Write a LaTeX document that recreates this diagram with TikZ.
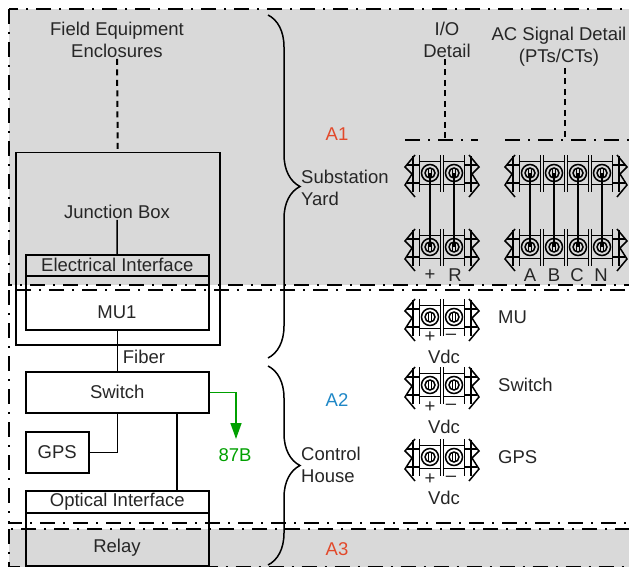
\documentclass[tikz,border=0pt]{standalone}
\usepackage{fontspec}
\setmainfont{Liberation Sans}
\usetikzlibrary{arrows.meta, decorations.pathreplacing}
\definecolor{zonegray}{HTML}{D9D9D9}
\definecolor{tagred}{HTML}{E2492B}
\definecolor{tagblue}{HTML}{1F87C6}
\definecolor{tripgreen}{HTML}{00A000}

\begin{document}
\begin{tikzpicture}[
    x=1pt, y=-1pt,
    every node/.style={font=\fontsize{18.5}{22}\selectfont, text=black!85, inner sep=1pt},
    box/.style={draw=black, line width=1.5pt, inner sep=0pt, anchor=north west},
    zone/.style={line width=2pt, dash pattern=on 15pt off 8pt on 2pt off 8pt},
    detail/.style={line width=2pt, dash pattern=on 15pt off 8pt on 2pt off 8pt},
    feed/.style={line width=2pt, dash pattern=on 6pt off 4.5pt},
    wire/.style={line width=1.5pt},
    curly/.style={line width=1.5pt, decorate, decoration={brace, amplitude=32pt}},
    pics/terminal/.style={code={
      \pgfmathsetmacro\lastx{24*(#1-1)}
      \foreach \n [evaluate=\n as \xc using 24*(\n-1)] in {1,...,#1} {
        \coordinate (-s\n) at (\xc,0);
        \draw[line width=1.5pt] (\xc,0) circle (8.5pt) (\xc,0) circle (5pt);
        \draw[line width=1pt] (\xc-1.5,-4) -- (\xc-1.5,4) (\xc+1.5,-4) -- (\xc+1.5,4);
        \draw[line width=1.7pt] (\xc-10.5,-18) -- (\xc-10.5,19) (\xc+10.5,-18) -- (\xc+10.5,19);
        \draw[line width=1.5pt] (\xc-10.5,-11.5) -- (\xc+10.5,-11.5) (\xc-10.5,11.5) -- (\xc+10.5,11.5);
      }
      \draw[line width=1.5pt] (-15,-18) -- (-25,-6) -- (-18,1) -- (-25,12) -- (-15,24);
      \draw[line width=1.5pt] (-17,-17) -- (-17,19) (-23,-8) -- (-10.5,-8) (-23,10) -- (-10.5,10);
      \draw[line width=1.5pt] (\lastx+15,-18) -- (\lastx+25,-6) -- (\lastx+18,1) -- (\lastx+25,12) -- (\lastx+15,24);
      \draw[line width=1.5pt] (\lastx+17,-17) -- (\lastx+17,19) (\lastx+23,-8) -- (\lastx+10.5,-8) (\lastx+23,10) -- (\lastx+10.5,10);
    }}
]
  \useasboundingbox (0,0) rectangle (629,567);

  % --- ZONES ---
  \draw[zone, fill=zonegray] (9,9) rectangle (645,285);
  \draw[zone] (9,290) rectangle (645,523);
  \draw[zone, fill=zonegray] (9,529) rectangle (645,566.5);

  % --- LEFT SECTION ---
  \node[align=center] (fieldlabel) at (117,40) {Field Equipment\\Enclosures};
  \node[box, minimum width=204pt, minimum height=192pt] (jbox) at (15,152) {};
  \node (jlabel) at (117,212) {Junction Box};
  \node[box, minimum width=183pt, minimum height=21pt] (elec) at (25,254) {Electrical Interface};
  \node[box, minimum width=183pt, minimum height=54pt] (mu) at (25,275) {};
  \node (mutext) at (117,312) {MU1};
  \node (fiber) at (144,357) {Fiber};
  \node[box, minimum width=183pt, minimum height=41pt] (switch) at (25,371) {Switch};
  \node[box, minimum width=63pt, minimum height=41pt] (gps) at (25,431) {GPS};
  \node[box, minimum width=183pt, minimum height=22pt] (optical) at (25,490) {Optical Interface};
  \node[box, minimum width=183pt, minimum height=53pt] (relay) at (25,512) {};
  \node (relaytext) at (117,548) {Relay};
  \node[text=tripgreen] (trip) at (235,455) {87B};
  \coordinate (optictap) at (177,450);
  \coordinate (triptip) at (236,439);

  \draw[feed] (fieldlabel.south) -- (jbox.north);
  \draw[wire] (jlabel.south) -- (elec.north);
  \draw[wire] (mu.south) -- (switch.north);
  \draw[wire] (gps.east) -| (switch.south);
  \draw[wire] (switch.south -| optictap) -- (optical.north -| optictap);
  \draw[wire, tripgreen, -{Triangle[width=11pt,length=16pt]}] (switch.east) -| (triptip);

  % --- CENTER BRACES ---
  \coordinate (yardtop) at (268,15);
  \coordinate (yardend) at (268,358);
  \coordinate (housetop) at (268,366);
  \coordinate (houseend) at (268,565);
  \draw[curly] (yardtop) -- (yardend);
  \draw[curly] (housetop) -- (houseend);
  \node[align=left, anchor=west] (yard) at (300,188) {Substation\\Yard};
  \node[align=left, anchor=west] (house) at (300,465) {Control\\House};
  \node[text=tagred] (a1) at (337,134) {A1};
  \node[text=tagblue] (a2) at (337,400) {A2};
  \node[text=tagred] (a3) at (337,549) {A3};

  % --- RIGHT SECTION ---
  \node[align=center] (iolabel) at (447,40) {I/O\\Detail};
  \node[align=center] (aclabel) at (559,47) {AC Signal Detail\\(PTs/CTs)};
  \coordinate (ioleft) at (405,140);
  \coordinate (ioright) at (478,140);
  \coordinate (acleft) at (505,140);
  \coordinate (acright) at (645,140);
  \coordinate (iotap) at (445,140);
  \coordinate (actap) at (565,140);
  \draw[detail] (ioleft) -- (ioright);
  \draw[detail] (acleft) -- (acright);
  \draw[feed] (iotap |- iolabel.south) -- (iotap);
  \draw[feed] (actap |- aclabel.south) -- (actap);

  \pic (iotop) at (430,173) {terminal=2};
  \pic (iobot) at (430,247) {terminal=2};
  \pic (actop) at (530,173) {terminal=4};
  \pic (acbot) at (530,247) {terminal=4};
  \foreach \n in {1,2} \draw[wire] (iotop-s\n) -- (iobot-s\n);
  \foreach \n in {1,...,4} \draw[wire] (actop-s\n) -- (acbot-s\n);

  \node (plus) at (430,275) {+};
  \node (r) at (455,275) {R};
  \node (pa) at (530,275) {A};
  \node (pb) at (554,275) {B};
  \node (pc) at (577,275) {C};
  \node (pn) at (601,275) {N};

  % --- SUPPLY BLOCKS ---
  \pic (tbmu) at (430,317) {terminal=2};
  \pic (tbsw) at (430,385) {terminal=2};
  \pic (tbgps) at (430,457) {terminal=2};
  \node (muplus) at (430,337) {+};
  \node (muminus) at (451,337) {–};
  \node (muvdc) at (444,357) {Vdc};
  \node (swplus) at (430,407) {+};
  \node (swminus) at (451,407) {–};
  \node (swvdc) at (444,427) {Vdc};
  \node (gpsplus) at (430,479) {+};
  \node (gpsminus) at (451,479) {–};
  \node (gpsvdc) at (444,498) {Vdc};
  \node[anchor=west] (mulabel) at (497,317) {MU};
  \node[anchor=west] (swlabel) at (497,385) {Switch};
  \node[anchor=west] (gpslabel) at (497,457) {GPS};
\end{tikzpicture}
\end{document}
